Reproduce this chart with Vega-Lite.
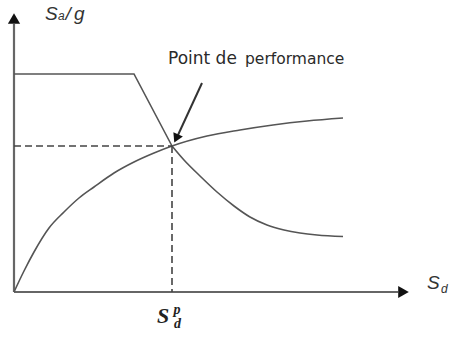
{
  "$schema": "https://vega.github.io/schema/vega-lite/v6.json",
  "width": 451,
  "height": 342,
  "padding": 0,
  "autosize": {"type": "none"},
  "background": "white",
  "config": {"view": {"stroke": null}},
  "datasets": {
    "axes": [
      {"id": "yaxis", "o": 1, "x": 0, "y": 0},
      {"id": "yaxis", "o": 2, "x": 0, "y": 26.8},
      {"id": "xaxis", "o": 1, "x": 0, "y": 0},
      {"id": "xaxis", "o": 2, "x": 38.4, "y": 0}
    ],
    "plateau": [
      {"o": 1, "x": 0, "y": 21.8},
      {"o": 2, "x": 12.0, "y": 21.8},
      {"o": 3, "x": 15.8, "y": 14.6}
    ],
    "curves": [
      {"id": "capacity", "o": 1, "x": 0, "y": 0},
      {"id": "capacity", "o": 2, "x": 1.0, "y": 2.1},
      {"id": "capacity", "o": 3, "x": 2.0, "y": 4.0},
      {"id": "capacity", "o": 4, "x": 3.5, "y": 6.4},
      {"id": "capacity", "o": 5, "x": 5.0, "y": 8.0},
      {"id": "capacity", "o": 6, "x": 6.5, "y": 9.4},
      {"id": "capacity", "o": 7, "x": 8.0, "y": 10.5},
      {"id": "capacity", "o": 8, "x": 10.0, "y": 11.9},
      {"id": "capacity", "o": 9, "x": 12.0, "y": 13.0},
      {"id": "capacity", "o": 10, "x": 14.0, "y": 13.9},
      {"id": "capacity", "o": 11, "x": 15.8, "y": 14.6},
      {"id": "capacity", "o": 12, "x": 19.3, "y": 15.6},
      {"id": "capacity", "o": 13, "x": 22.6, "y": 16.2},
      {"id": "capacity", "o": 14, "x": 25.9, "y": 16.7},
      {"id": "capacity", "o": 15, "x": 29.3, "y": 17.1},
      {"id": "capacity", "o": 16, "x": 32.9, "y": 17.4},
      {"id": "demand", "o": 1, "x": 15.8, "y": 14.6},
      {"id": "demand", "o": 2, "x": 17.0, "y": 13.2},
      {"id": "demand", "o": 3, "x": 18.6, "y": 11.6},
      {"id": "demand", "o": 4, "x": 20.3, "y": 10.0},
      {"id": "demand", "o": 5, "x": 22.0, "y": 8.6},
      {"id": "demand", "o": 6, "x": 23.6, "y": 7.5},
      {"id": "demand", "o": 7, "x": 25.3, "y": 6.7},
      {"id": "demand", "o": 8, "x": 27.0, "y": 6.2},
      {"id": "demand", "o": 9, "x": 28.6, "y": 5.9},
      {"id": "demand", "o": 10, "x": 30.3, "y": 5.7},
      {"id": "demand", "o": 11, "x": 32.9, "y": 5.55}
    ],
    "dashed": [
      {"id": "h", "o": 1, "x": 0, "y": 14.6},
      {"id": "h", "o": 2, "x": 15.8, "y": 14.6},
      {"id": "v", "o": 1, "x": 15.8, "y": 14.6},
      {"id": "v", "o": 2, "x": 15.8, "y": 0}
    ],
    "pointer": [
      {"o": 1, "x": 18.8, "y": 20.9},
      {"o": 2, "x": 16.4, "y": 15.7}
    ],
    "heads": [
      {"name": "yaxis", "x": 0, "y": 27.35},
      {"name": "xaxis", "x": 38.95, "y": 0},
      {"name": "perf", "x": 16.22, "y": 15.35}
    ],
    "labels": [
      {"role": "big", "t": "S", "x": 3.1, "y": 27.2},
      {"role": "big", "t": "/", "x": 5.15, "y": 27.2},
      {"role": "big", "t": "g", "x": 6.0, "y": 27.2},
      {"role": "sub", "t": "a", "x": 4.4, "y": 27.2},
      {"role": "big", "t": "S", "x": 41.3, "y": 0.3},
      {"role": "sub", "t": "d", "x": 42.7, "y": -0.1},
      {"role": "title", "t": "Point de", "x": 15.4, "y": 22.8},
      {"role": "small", "t": "performance", "x": 23.1, "y": 22.8},
      {"role": "serif", "t": "S", "x": 14.3, "y": -3.1},
      {"role": "serifsmall", "t": "p", "x": 15.95, "y": -2.2},
      {"role": "serifsmall", "t": "d", "x": 16.0, "y": -3.6}
    ]
  },
  "encoding": {
    "x": {"field": "x", "type": "quantitative", "scale": {"domain": [-1.4, 43.7], "nice": false, "zero": false}, "axis": null},
    "y": {"field": "y", "type": "quantitative", "scale": {"domain": [-5.0, 29.2], "nice": false, "zero": false}, "axis": null}
  },
  "layer": [
    {
      "data": {"name": "axes"},
      "mark": {"type": "line", "stroke": "#666666", "strokeWidth": 2.2, "clip": false},
      "encoding": {"detail": {"field": "id"}, "order": {"field": "o", "type": "quantitative"}}
    },
    {
      "data": {"name": "plateau"},
      "mark": {"type": "line", "stroke": "#555555", "strokeWidth": 1.6},
      "encoding": {"order": {"field": "o", "type": "quantitative"}}
    },
    {
      "data": {"name": "curves"},
      "mark": {"type": "line", "stroke": "#555555", "strokeWidth": 1.6, "interpolate": "monotone"},
      "encoding": {"detail": {"field": "id"}, "order": {"field": "o", "type": "quantitative"}}
    },
    {
      "data": {"name": "dashed"},
      "mark": {"type": "line", "stroke": "#444444", "strokeWidth": 1.6, "strokeDash": [7, 4]},
      "encoding": {"detail": {"field": "id"}, "order": {"field": "o", "type": "quantitative"}}
    },
    {
      "data": {"name": "pointer"},
      "mark": {"type": "line", "stroke": "#333333", "strokeWidth": 2},
      "encoding": {"order": {"field": "o", "type": "quantitative"}}
    },
    {
      "data": {"name": "heads"},
      "transform": [{"filter": "datum.name === 'yaxis'"}],
      "mark": {"type": "point", "shape": "triangle-up", "filled": true, "fill": "#111111", "stroke": null, "size": 150, "opacity": 1}
    },
    {
      "data": {"name": "heads"},
      "transform": [{"filter": "datum.name === 'xaxis'"}],
      "mark": {"type": "point", "shape": "triangle-right", "filled": true, "fill": "#111111", "stroke": null, "size": 150, "opacity": 1}
    },
    {
      "data": {"name": "heads"},
      "transform": [{"filter": "datum.name === 'perf'"}],
      "mark": {"type": "point", "shape": "triangle-up", "angle": 205, "filled": true, "fill": "#111111", "stroke": null, "size": 110, "opacity": 1}
    },
    {
      "data": {"name": "labels"},
      "transform": [{"filter": "datum.role === 'big'"}],
      "mark": {"type": "text", "align": "left", "baseline": "alphabetic", "font": "Liberation Sans", "fontStyle": "italic", "fontSize": 19, "fill": "#333333"},
      "encoding": {"text": {"field": "t"}}
    },
    {
      "data": {"name": "labels"},
      "transform": [{"filter": "datum.role === 'sub'"}],
      "mark": {"type": "text", "align": "left", "baseline": "alphabetic", "font": "Liberation Sans", "fontStyle": "italic", "fontSize": 12, "fill": "#333333"},
      "encoding": {"text": {"field": "t"}}
    },
    {
      "data": {"name": "labels"},
      "transform": [{"filter": "datum.role === 'title'"}],
      "mark": {"type": "text", "align": "left", "baseline": "alphabetic", "font": "DejaVu Sans", "fontSize": 17, "fill": "#2a2a2a"},
      "encoding": {"text": {"field": "t"}}
    },
    {
      "data": {"name": "labels"},
      "transform": [{"filter": "datum.role === 'small'"}],
      "mark": {"type": "text", "align": "left", "baseline": "alphabetic", "font": "DejaVu Sans", "fontSize": 15.5, "fill": "#2a2a2a"},
      "encoding": {"text": {"field": "t"}}
    },
    {
      "data": {"name": "labels"},
      "transform": [{"filter": "datum.role === 'serif'"}],
      "mark": {"type": "text", "align": "left", "baseline": "alphabetic", "font": "Liberation Serif", "fontStyle": "italic", "fontWeight": "bold", "fontSize": 22, "fill": "#222222"},
      "encoding": {"text": {"field": "t"}}
    },
    {
      "data": {"name": "labels"},
      "transform": [{"filter": "datum.role === 'serifsmall'"}],
      "mark": {"type": "text", "align": "left", "baseline": "alphabetic", "font": "Liberation Serif", "fontStyle": "italic", "fontWeight": "bold", "fontSize": 14, "fill": "#222222"},
      "encoding": {"text": {"field": "t"}}
    }
  ]
}
